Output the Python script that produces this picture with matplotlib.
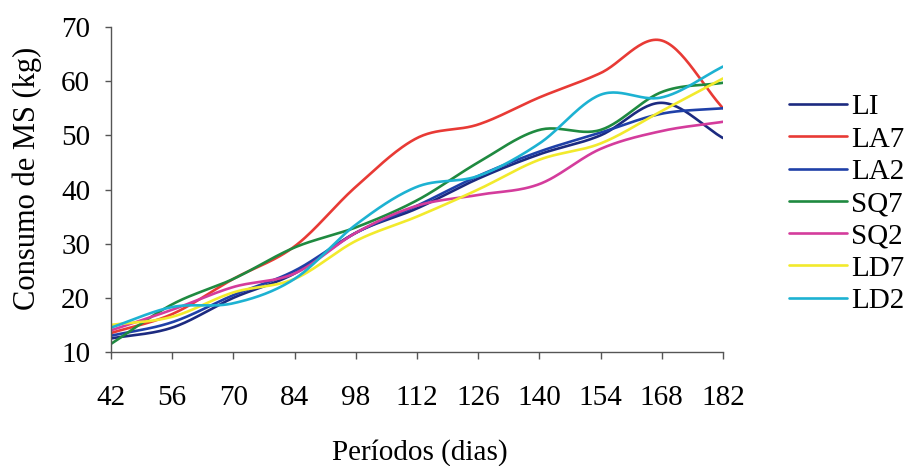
import numpy as np
import matplotlib
matplotlib.use("Agg")
from matplotlib import pyplot as plt

# Consumo de matéria seca por período
periodos = [42, 56, 70, 84, 98, 112, 126, 140, 154, 168, 182]
LI = [12.5, 14.5, 20.0, 24.5, 32.0, 36.5, 42.0, 46.5, 50.0, 56.0, 49.5]
LA7 = [13.5, 17.0, 23.5, 29.5, 40.5, 49.5, 52.0, 57.0, 61.5, 67.5, 55.0]
LA2 = [13.0, 15.5, 20.5, 25.0, 32.0, 37.0, 42.5, 47.0, 50.5, 54.0, 55.0]
SQ7 = [11.5, 18.8, 23.5, 29.3, 33.0, 38.0, 45.0, 51.0, 51.0, 58.0, 59.7]
SQ2 = [14.0, 17.8, 22.0, 24.5, 32.0, 37.0, 39.0, 41.0, 47.5, 50.8, 52.5]
LD7 = [15.0, 16.5, 21.0, 23.5, 30.5, 35.0, 40.0, 45.5, 48.5, 54.5, 60.5]
LD2 = [14.5, 18.3, 19.0, 23.5, 33.5, 40.5, 42.5, 48.5, 57.5, 57.0, 62.7]

series = [("LI", LI, "#1c2a80"), ("LA7", LA7, "#e83a35"),
          ("LA2", LA2, "#1f40a8"), ("SQ7", SQ7, "#1f8a40"),
          ("SQ2", SQ2, "#d43c9c"), ("LD7", LD7, "#f2ea2c"),
          ("LD2", LD2, "#1db2d2")]


def smooth(x, y, n=30):
    # catmull-rom curve through the points, like a spreadsheet "smoothed line"
    x = np.asarray(x, float)
    y = np.asarray(y, float)
    px = np.concatenate([[2 * x[0] - x[1]], x, [2 * x[-1] - x[-2]]])
    py = np.concatenate([[2 * y[0] - y[1]], y, [2 * y[-1] - y[-2]]])
    xs, ys = [], []
    t = np.linspace(0, 1, n)
    for i in range(1, len(px) - 2):
        for p, out in ((px, xs), (py, ys)):
            p0, p1, p2, p3 = p[i - 1], p[i], p[i + 1], p[i + 2]
            c1 = p1 + (p2 - p0) / 6
            c2 = p2 - (p3 - p1) / 6
            out.append((1 - t) ** 3 * p1 + 3 * (1 - t) ** 2 * t * c1
                       + 3 * (1 - t) * t ** 2 * c2 + t ** 3 * p2)
    return np.concatenate(xs), np.concatenate(ys)


plt.rcParams['font.family'] = ['Liberation Serif', 'DejaVu Serif']
fig = plt.figure(figsize=(9.09, 4.66), dpi=100)
ax = fig.add_axes([111 / 909, 1 - 352 / 466, 612 / 909, 325 / 466])

for name, vals, color in series:
    sx, sy = smooth(periodos, vals)
    ax.plot(sx, sy, color=color, lw=1.9, label=name, solid_capstyle='round')

ax.set_xlim(42, 182)
ax.set_ylim(10, 70)
ax.set_xticks(periodos)
ax.set_yticks(range(10, 71, 10))
ax.spines['top'].set_visible(False)
ax.spines['right'].set_visible(False)
for s in ('left', 'bottom'):
    ax.spines[s].set_color('#555555')
    ax.spines[s].set_linewidth(1.0)
ax.tick_params(axis='x', length=5, width=1, color='#555555', pad=19, labelsize=21)
ax.tick_params(axis='y', length=4, width=1, color='#555555', pad=11, labelsize=21)
ax.set_xlabel("Períodos (dias)", fontsize=21)
ax.set_ylabel("Consumo de MS (kg)", fontsize=22)
ax.xaxis.set_label_coords(0.505, -0.268)
ax.yaxis.set_label_coords(-0.112, 0.535)

fig.legend(loc='upper left', bbox_to_anchor=(789 / 909, 1 - 94 / 466),
           frameon=False, fontsize=21, handlelength=2.0, handletextpad=0.14,
           labelspacing=0.2, borderpad=0, borderaxespad=0)

plt.savefig("out.png", dpi=100)
plt.close()
